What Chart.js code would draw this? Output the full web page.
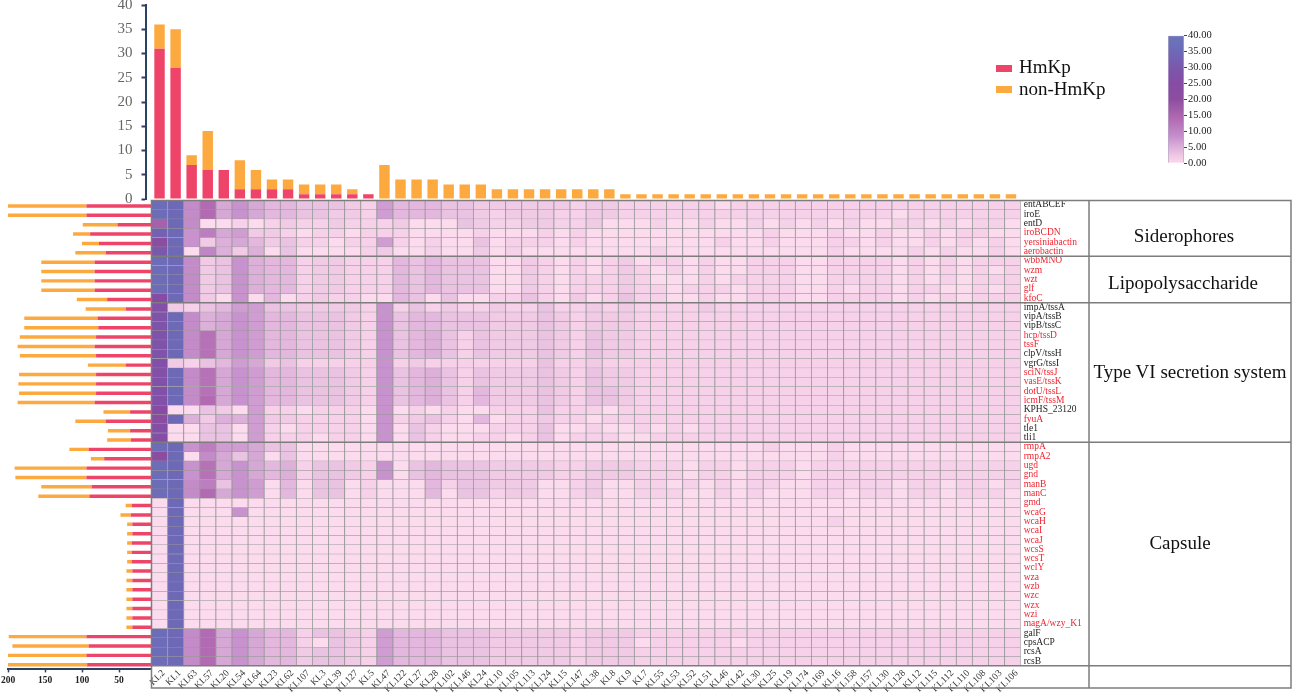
<!DOCTYPE html>
<html>
<head>
<meta charset="utf-8">
<title>KL types and virulence genes</title>
<style>
    html, body { margin: 0; padding: 0; background: #fff; overflow: hidden; }
    #page { position: relative; width: 1299px; height: 694px; font-family: 'Liberation Serif', serif; color: #111; }
    #page canvas { position: absolute; left: 0; top: 0; }
    #leftClip { position: absolute; left: 0; top: 0; width: 151px; height: 694px; overflow: hidden; }
    .section { position: absolute; font-size: 19px; line-height: 22px; transform: translateX(-50%); white-space: nowrap; }
    .legendBox { position: absolute; left: 996px; width: 16px; height: 7px; }
    .legendText { position: absolute; left: 1019px; font-size: 19px; line-height: 22px; }
</style>
</head>
<body>
<div id="page">
    <canvas id="topChart" width="1299" height="212"></canvas>
    <div id="leftClip"><canvas id="leftChart" width="160" height="694"></canvas></div>
    <canvas id="heatChart" width="1299" height="694"></canvas>
    <canvas id="scaleChart" width="70" height="145" style="left:1160px;top:28px"></canvas>
    <div class="legendBox" style="top:65px;background:#ef4469"></div>
    <div class="legendText" style="top:56px">HmKp</div>
    <div class="legendBox" style="top:86px;background:#fca93f"></div>
    <div class="legendText" style="top:78px">non-HmKp</div>
    <div class="section" style="left:1184px;top:225px">Siderophores</div>
    <div class="section" style="left:1183px;top:272px">Lipopolysaccharide</div>
    <div class="section" style="left:1190px;top:361px">Type VI secretion system</div>
    <div class="section" style="left:1180px;top:532px">Capsule</div>
</div>
<script src="https://cdn.jsdelivr.net/npm/chart.js@4/dist/chart.umd.js"></script>
<script>
const klTypes = ['KL2','KL1','KL63','KL57','KL20','KL54','KL64','KL23','KL62','KL107','KL3','KL39','KL127','KL5','KL47','KL122','KL27','KL28','KL102','KL146','KL24','KL10','KL105','KL113','KL124','KL15','KL147','KL38','KL8','KL9','KL7','KL55','KL53','KL52','KL51','KL46','KL42','KL30','KL25','KL19','KL174','KL169','KL16','KL158','KL157','KL130','KL128','KL12','KL115','KL112','KL110','KL108','KL103','KL106']
const klHmKp = [31,27,7,6,6,2,2,2,2,1,1,1,1,1,0,0,0,0,0,0,0,0,0,0,0,0,0,0,0,0,0,0,0,0,0,0,0,0,0,0,0,0,0,0,0,0,0,0,0,0,0,0,0,0]
const klNonHmKp = [5,8,2,8,0,6,4,2,2,2,2,2,1,0,7,4,4,4,3,3,3,2,2,2,2,2,2,2,2,1,1,1,1,1,1,1,1,1,1,1,1,1,1,1,1,1,1,1,1,1,1,1,1,1]

const genes = ['entABCEF','iroE','entD','iroBCDN','yersiniabactin','aerobactin','wbbMNO','wzm','wzt','glf','kfoC','impA/tssA','vipA/tssB','vipB/tssC','hcp/tssD','tssF','clpV/tssH','vgrG/tssI','sciN/tssJ','vasE/tssK','dotU/tssL','icmF/tssM','KPHS_23120','fyuA','tle1','tli1','rmpA','rmpA2','ugd','gnd','manB','manC','gmd','wcaG','wcaH','wcaI','wcaJ','wcsS','wcsT','wclY','wza','wzb','wzc','wzx','wzi','magA/wzy_K1','galF','cpsACP','rcsA','rcsB']
const blackGenes = ['entABCEF','iroE','entD','impA/tssA','vipA/tssB','vipB/tssC','clpV/tssH','vgrG/tssI','KPHS_23120','tle1','tli1','galF','cpsACP','rcsA','rcsB']
const geneHmKp = [94,94,52,89,77,68,83,83,83,83,66,41,79,78,81,83,81,41,81,81,81,83,35,68,35,34,91,70,94,94,87,90,33,34,32,32,33,33,33,32,32,32,32,32,32,32,94,91,94,93]
const geneNonHmKp = [109,109,47,23,23,41,72,72,72,72,41,54,99,100,103,104,103,51,104,105,104,104,36,41,30,32,26,18,97,96,68,69,8,14,7,7,6,6,6,8,8,8,8,8,8,8,105,103,108,109]

// one row per gene, one value per KL type
const cellValues = [
    [36,35,9,14,6,8,6,4,4,3,3,3,2,1,7,4,4,4,3,3,2,2,2,2,2,2,1,2,2,1,1,1,1,1,1,0,1,1,1,1,1,1,1,1,1,1,1,1,1,1,1,1,1,1],
    [36,35,9,14,6,8,6,4,4,3,3,2,2,1,7,4,4,4,3,3,2,1,2,2,2,1,1,2,2,1,1,1,1,1,1,1,1,1,1,1,1,1,1,1,1,1,0,1,1,1,1,1,1,1],
    [16,35,9,0,0,1,0,1,2,1,1,2,1,1,1,2,0,0,0,3,2,1,1,2,2,1,1,2,0,0,0,1,0,0,1,0,0,1,0,1,0,1,0,1,0,0,1,1,0,1,0,1,1,0],
    [33,35,8,11,6,7,2,2,1,0,1,1,0,1,1,1,0,0,0,0,1,0,0,0,1,0,1,0,0,0,0,0,0,0,0,0,0,0,1,0,0,0,1,0,0,1,0,0,1,0,1,1,0,0],
    [22,35,8,2,5,6,4,2,3,1,1,0,1,1,7,1,0,1,0,0,3,0,1,1,1,0,1,0,0,0,0,0,0,0,0,1,0,0,1,0,0,0,1,1,0,1,0,0,1,0,1,0,1,0],
    [30,35,0,10,5,2,5,0,3,0,0,0,0,1,2,0,0,1,0,0,2,0,1,0,0,0,0,0,0,0,0,1,0,0,0,0,0,0,0,0,0,0,1,0,0,0,0,1,0,1,0,0,1,0],
    [36,35,9,2,3,8,5,4,4,1,2,2,1,1,1,4,3,4,3,3,3,0,0,2,1,0,1,0,1,2,0,1,1,0,1,0,0,1,1,1,0,0,1,1,1,1,0,1,0,1,0,1,1,1],
    [36,35,9,2,3,8,5,4,4,1,2,2,1,1,1,4,3,4,3,3,3,0,0,2,1,0,1,0,1,2,1,0,1,0,1,0,0,1,1,1,0,0,1,1,1,1,0,1,0,1,0,1,0,1],
    [36,35,9,2,3,8,5,4,4,1,2,2,1,1,1,4,3,4,3,3,3,0,0,2,1,0,1,1,1,2,1,0,0,0,1,0,1,1,1,1,0,0,1,1,1,1,0,1,0,1,0,1,1,1],
    [36,35,9,2,3,8,5,4,4,1,2,2,1,1,1,4,3,4,3,3,3,0,0,2,1,0,1,1,1,2,1,1,0,1,1,1,0,1,1,1,0,0,1,0,1,1,0,1,1,0,0,1,0,1],
    [25,35,9,2,0,8,0,4,0,1,2,1,1,0,0,4,3,0,3,0,0,1,1,3,1,0,2,0,1,3,1,1,0,0,1,0,0,1,1,1,0,0,1,1,1,1,0,1,0,1,0,1,1,1],
    [27,2,1,3,4,7,7,3,3,2,2,2,2,1,8,1,3,1,2,1,1,2,1,1,3,1,1,2,1,2,1,1,1,1,2,1,1,1,1,1,1,1,1,1,1,1,1,1,1,1,1,1,1,1],
    [28,35,9,5,6,8,7,4,4,3,3,3,2,1,8,3,4,4,3,3,3,2,2,2,3,2,1,2,2,2,1,1,1,1,1,1,1,1,1,1,1,1,1,1,1,1,1,1,1,1,1,1,1,1],
    [28,35,9,5,6,8,7,4,4,3,3,3,2,1,8,3,4,4,3,3,3,2,2,2,3,2,1,2,2,2,1,1,1,1,1,1,1,1,1,1,1,1,1,1,1,1,1,1,1,1,1,1,1,1],
    [28,35,9,13,6,8,7,4,4,3,3,3,2,1,8,3,4,5,3,1,3,2,2,2,3,2,1,3,2,2,1,1,1,1,1,1,1,1,1,1,1,1,1,1,1,1,1,1,1,1,1,1,1,1],
    [28,35,9,13,6,8,7,4,4,3,3,3,2,1,8,3,4,5,3,1,3,2,2,2,3,2,1,3,2,2,1,1,1,1,1,1,1,1,1,1,1,1,1,1,1,1,1,1,1,1,1,1,1,1],
    [28,35,9,13,6,8,7,4,4,3,3,3,2,1,8,3,4,5,3,1,3,2,2,2,3,2,1,3,2,2,1,1,1,1,1,1,1,1,1,1,1,1,1,1,1,1,1,1,1,1,1,1,1,1],
    [27,2,1,3,4,7,6,2,3,1,1,1,1,1,8,1,2,1,1,1,1,1,1,1,3,1,1,2,1,1,1,1,1,1,1,1,1,1,1,1,1,1,1,1,1,1,1,1,1,1,1,1,1,1],
    [27,35,9,13,6,8,7,4,4,3,3,3,2,1,8,3,4,5,3,1,3,2,2,2,3,2,1,3,2,2,1,1,1,1,1,1,1,1,1,1,1,1,1,1,1,1,1,1,1,1,1,1,1,1],
    [27,35,9,13,6,8,7,4,4,3,3,3,2,1,8,3,4,5,3,1,3,2,2,2,3,2,1,3,2,2,1,1,1,1,1,1,1,1,1,1,1,1,1,1,1,1,1,1,1,1,1,1,1,1],
    [27,35,9,13,6,8,7,4,4,3,3,3,2,1,8,3,4,5,3,1,4,2,2,2,3,2,1,3,3,2,1,1,1,1,1,1,1,1,1,1,1,1,1,1,1,1,1,1,1,1,1,1,1,1],
    [27,35,9,14,6,8,7,4,4,3,3,3,2,1,8,3,4,5,3,1,4,2,2,2,3,2,1,3,3,2,1,1,1,1,1,1,1,1,1,1,1,1,1,1,1,1,1,1,1,1,1,1,1,1],
    [25,0,0,3,2,0,7,1,1,0,1,1,1,0,8,0,1,0,1,0,0,1,1,1,3,1,1,1,0,1,1,1,1,1,1,1,1,1,1,1,1,1,1,1,1,1,1,1,1,1,1,1,1,1],
    [22,35,5,2,5,5,7,2,2,1,1,1,1,0,8,1,2,3,1,0,4,0,1,1,2,1,1,0,1,1,1,1,1,1,1,1,1,1,1,1,1,1,1,1,1,1,1,1,1,1,1,1,1,1],
    [26,0,0,3,3,0,7,1,0,1,1,1,1,0,8,0,3,1,0,0,0,1,1,1,3,0,0,1,0,0,1,0,1,0,1,1,1,1,1,1,1,1,1,1,1,1,1,1,1,1,1,1,1,1],
    [26,0,0,3,3,0,7,1,1,1,0,1,1,0,8,0,3,1,0,0,1,1,0,1,3,0,1,1,1,0,0,1,1,1,1,1,1,1,1,1,1,1,1,1,1,1,1,1,1,1,1,1,1,1],
    [36,35,8,11,7,7,6,3,3,0,0,0,0,0,0,0,0,0,0,0,0,0,0,0,0,0,0,0,0,0,0,0,0,0,0,0,0,0,1,0,0,0,1,0,0,0,0,0,0,0,0,0,0,0],
    [22,35,0,9,6,3,6,0,3,0,0,0,0,0,0,0,0,0,0,0,0,0,0,0,0,0,0,0,0,0,0,0,0,0,0,0,0,0,0,0,0,0,1,0,0,0,0,0,0,0,0,0,0,0],
    [36,35,8,13,6,8,6,4,5,1,3,3,2,1,8,0,3,4,3,3,3,2,2,2,2,1,1,2,2,2,1,1,1,0,1,1,0,1,1,1,0,1,1,1,1,1,1,1,1,1,1,1,1,1],
    [36,35,8,13,6,8,6,4,5,1,3,3,2,1,8,0,3,4,3,3,3,2,2,2,2,1,1,2,2,2,1,1,1,0,1,1,0,1,1,1,0,1,1,1,1,1,1,1,1,1,1,1,1,1],
    [36,35,9,11,3,8,7,0,4,0,3,3,0,1,0,0,0,4,1,3,3,2,2,2,0,0,1,2,0,0,1,1,0,1,0,1,0,1,1,0,0,1,1,1,1,1,0,1,1,0,1,1,0,1],
    [36,35,9,14,6,8,7,0,4,0,3,3,0,1,0,0,0,4,0,3,3,1,2,2,0,0,1,2,0,0,1,1,1,0,0,1,0,1,0,0,0,1,1,0,1,1,0,1,1,0,1,1,1,0],
    [0,35,0,0,0,0,0,0,0,0,0,0,0,0,0,0,0,0,0,0,0,0,0,0,0,0,0,0,0,0,0,0,0,0,0,0,0,0,0,0,0,0,0,0,0,0,0,0,0,0,0,0,0,0],
    [0,35,0,0,0,8,0,0,0,0,0,0,0,0,0,0,0,0,0,0,0,0,0,0,0,0,0,0,0,0,0,0,0,0,0,0,0,0,0,0,0,0,0,0,0,0,0,0,0,0,0,0,0,0],
    [0,35,0,0,0,0,0,0,0,0,0,0,0,0,0,0,0,0,0,0,0,0,0,0,0,0,0,0,0,0,0,0,0,0,0,0,0,0,0,0,0,0,1,0,0,0,0,0,0,0,0,0,0,0],
    [0,35,0,0,0,0,0,0,0,0,0,0,0,0,0,0,0,0,0,0,0,0,0,0,0,0,0,0,0,0,0,0,0,0,0,0,0,0,0,0,0,0,0,0,0,0,0,0,0,0,0,0,0,0],
    [0,35,0,0,0,0,0,0,0,0,0,0,0,0,0,0,0,0,0,0,0,0,0,0,0,0,0,0,0,0,0,0,0,0,0,0,0,0,0,0,0,0,0,0,0,0,0,0,0,0,0,0,0,0],
    [0,35,0,0,0,0,0,0,0,0,0,0,0,0,0,0,0,0,0,0,0,0,0,0,0,0,0,0,0,0,0,0,0,0,0,0,0,0,0,0,0,0,0,0,0,0,0,0,0,0,0,0,0,0],
    [0,35,0,0,0,0,0,0,0,0,0,0,0,0,0,0,0,0,0,0,0,0,0,0,0,0,0,0,0,0,0,0,0,0,0,0,0,0,0,0,0,0,0,0,0,0,0,0,0,0,0,0,0,0],
    [0,35,0,0,0,0,0,0,0,0,0,0,0,0,0,0,0,0,0,0,0,0,0,0,0,0,0,0,0,0,0,0,0,0,0,0,0,0,0,0,0,0,0,0,0,0,0,0,0,0,0,0,0,0],
    [0,35,0,0,0,0,0,0,0,0,0,0,0,0,0,0,0,0,0,0,0,0,0,0,0,0,0,0,0,0,0,0,0,0,0,0,0,0,0,0,0,0,0,0,0,0,0,0,0,0,0,0,0,0],
    [0,35,0,0,0,0,0,0,0,0,0,0,0,0,0,0,0,0,0,0,0,0,0,0,0,0,0,0,0,0,0,0,0,0,0,0,0,0,0,0,0,0,0,0,0,0,0,0,0,0,0,0,0,0],
    [0,35,0,0,0,0,0,0,0,0,0,0,0,0,0,0,0,0,0,0,0,0,0,0,0,0,0,0,0,0,0,0,0,0,0,0,0,0,0,0,0,0,0,0,0,0,0,0,0,0,0,0,0,0],
    [0,35,0,0,0,0,0,0,0,0,0,0,0,0,0,0,0,0,0,0,0,0,0,0,0,0,0,0,0,0,0,0,0,0,0,0,0,0,0,0,0,0,0,0,0,0,0,0,0,0,0,0,0,0],
    [0,35,0,0,0,0,0,0,0,0,0,0,0,0,0,0,0,0,0,0,0,0,0,0,0,0,0,0,0,0,0,0,0,0,0,0,0,0,0,0,0,0,0,0,0,0,0,0,0,0,0,0,0,0],
    [0,35,0,0,0,0,0,0,0,0,0,0,0,0,0,0,0,0,0,0,0,0,0,0,0,0,0,0,0,0,0,0,0,0,0,0,0,0,0,0,0,0,0,0,0,0,0,0,0,0,0,0,0,0],
    [36,35,9,14,6,8,6,4,4,1,3,3,2,1,7,4,4,4,3,3,3,2,2,2,2,2,1,2,2,2,1,1,1,1,1,1,1,1,1,1,1,1,1,1,1,1,1,1,1,1,1,1,1,1],
    [36,35,9,14,6,8,6,4,4,1,0,3,2,1,7,4,4,4,3,3,3,2,2,2,2,2,1,2,2,2,0,1,1,1,1,1,0,1,1,1,1,1,1,1,1,1,1,1,1,1,1,1,1,1],
    [36,35,9,14,6,8,6,4,4,2,3,3,2,1,7,4,4,4,3,3,3,2,2,2,2,2,1,2,2,2,1,1,1,1,1,1,1,1,1,1,1,1,1,1,1,1,1,1,1,1,1,1,1,1],
    [36,35,9,14,6,8,6,4,4,2,3,3,2,1,7,4,4,4,3,3,3,2,2,2,2,2,1,2,2,2,1,1,1,1,1,1,1,1,1,1,1,1,1,1,1,1,1,1,1,1,1,1,1,1]
]

const sectionEnds = [6, 11, 26]
const heatStops = [
    [0, [252, 219, 238]], [1, [247, 209, 233]], [2, [241, 203, 230]], [3, [235, 195, 226]],
    [4, [228, 184, 222]], [6, [214, 168, 214]], [8, [199, 146, 205]], [14, [178, 106, 178]],
    [20, [142, 78, 160]], [25, [135, 75, 165]], [30, [122, 88, 172]], [36, [108, 108, 184]], [40, [107, 118, 185]]
]

const red = '#ef4469'
const orange = '#fca93f'
const navy = '#2b4263'

Chart.defaults.font.family = "'Liberation Serif', serif"
Chart.defaults.animation = false
Chart.defaults.responsive = false
Chart.defaults.plugins.legend.display = false
Chart.defaults.plugins.tooltip.enabled = false

function heatColor(v) {
    let i = 0
    while (i < heatStops.length - 2 && v > heatStops[i + 1][0]) i += 1
    let a = heatStops[i]
    let b = heatStops[i + 1]
    let t = (v - a[0]) / (b[0] - a[0])
    let c = a[1].map((p, k) => Math.round(p + (b[1][k] - p) * t))
    return `rgb(${c[0]},${c[1]},${c[2]})`
}

// exact box sizes so the three panels line up
function fixBox(size) {
    return function (scale) {
        if (scale.isHorizontal()) scale.height = size
        else scale.width = size
        scale.paddingLeft = 0
        scale.paddingRight = 0
        scale.paddingTop = 0
        scale.paddingBottom = 0
    }
}

// top panel: the y axis stands a little left of the first bar
const shiftAxis = {
    id: 'shiftAxis',
    afterLayout(chart) {
        chart.scales.y.left -= 6
        chart.scales.y.right -= 6
    }
}

new Chart(document.getElementById('topChart'), {
    type: 'bar',
    plugins: [shiftAxis],
    data: {
        labels: klTypes,
        datasets: [
            { label: 'HmKp', data: klHmKp, backgroundColor: red },
            { label: 'non-HmKp', data: klNonHmKp, backgroundColor: orange }
        ]
    },
    options: {
        layout: { padding: { top: 5, right: 280, bottom: 13, left: 0 } },
        datasets: { bar: { barPercentage: 0.65, categoryPercentage: 1 } },
        scales: {
            x: { stacked: true, display: false },
            y: {
                stacked: true,
                min: 0,
                max: 40,
                afterFit: fixBox(151.5),
                grid: { drawOnChartArea: false, color: navy, tickLength: 4, tickWidth: 2 },
                border: { color: navy, width: 2 },
                ticks: { stepSize: 5, color: '#666', padding: 9, font: { size: 15 } }
            }
        }
    }
})

new Chart(document.getElementById('leftChart'), {
    type: 'bar',
    data: {
        labels: genes,
        datasets: [
            { label: 'HmKp', data: geneHmKp, backgroundColor: red },
            { label: 'non-HmKp', data: geneNonHmKp, backgroundColor: orange }
        ]
    },
    options: {
        indexAxis: 'y',
        layout: { padding: { top: 201.3, right: 4, bottom: 0, left: 8 } },
        datasets: { bar: { barPercentage: 0.37, categoryPercentage: 1 } },
        scales: {
            y: { stacked: true, display: false },
            x: {
                stacked: true,
                reverse: true,
                min: 0,
                max: 200,
                afterFit: fixBox(24.6),
                grid: { drawOnChartArea: false, color: navy, tickLength: 3, tickWidth: 1.5 },
                border: { color: navy, width: 2 },
                ticks: {
                    stepSize: 50,
                    color: '#222',
                    padding: 2,
                    maxRotation: 0,
                    font: { size: 9.5, weight: 'bold' },
                    callback: (v) => (v === 0 ? '' : v)
                }
            }
        }
    }
})

// table frame and the lines between gene groups
const tableFrame = {
    id: 'tableFrame',
    afterDraw(chart) {
        const { ctx, chartArea, scales } = chart
        ctx.save()
        ctx.strokeStyle = '#7d7d7d'
        ctx.lineWidth = 1.5
        ctx.strokeRect(chartArea.left, 200.5, 1291 - chartArea.left, 487.5)
        ctx.beginPath()
        ctx.moveTo(1089, 200)
        ctx.lineTo(1089, 688)
        for (let end of [...sectionEnds, genes.length]) {
            let y = scales.y.getPixelForValue(end)
            ctx.moveTo(chartArea.left, y)
            ctx.lineTo(1291, y)
        }
        ctx.stroke()
        ctx.restore()
    }
}

new Chart(document.getElementById('heatChart'), {
    type: 'bar',
    plugins: [tableFrame],
    data: {
        labels: klTypes,
        // every row is one stacked band of height 1, its value only sets the colour
        datasets: genes.map((gene, row) => ({
            label: gene,
            data: klTypes.map(() => 1),
            backgroundColor: cellValues[row].map(heatColor),
            borderColor: '#989898',
            borderWidth: { top: 0.5, bottom: 0.5, left: 0.8, right: 0.8 },
            borderSkipped: false
        }))
    },
    options: {
        layout: { padding: { top: 200.3, right: 0, bottom: 0, left: 151.5 } },
        datasets: { bar: { barPercentage: 1, categoryPercentage: 1 } },
        scales: {
            x: {
                stacked: true,
                afterFit: fixBox(28.3),
                grid: { display: false, drawTicks: false },
                border: { display: false },
                ticks: {
                    autoSkip: false,
                    minRotation: 45,
                    maxRotation: 45,
                    labelOffset: 4,
                    padding: 2,
                    color: '#333',
                    font: { size: 9.5 }
                }
            },
            y: { stacked: true, reverse: true, display: false, min: 0, max: genes.length },
            geneAxis: {
                axis: 'y',
                type: 'category',
                position: 'right',
                labels: genes,
                offset: true,
                afterFit: fixBox(278.3),
                grid: { display: false, drawTicks: false },
                border: { display: false },
                ticks: {
                    autoSkip: false,
                    padding: 3,
                    font: { size: 9.5 },
                    color: (c) => (blackGenes.includes(genes[c.index]) ? '#222' : '#f0222e')
                }
            }
        }
    }
})

// colour scale, a single gradient bar on its own axis
new Chart(document.getElementById('scaleChart'), {
    type: 'bar',
    data: {
        labels: ['count'],
        datasets: [{
            data: [40],
            borderColor: '#b5a8c8',
            borderWidth: 1,
            backgroundColor: (c) => {
                const area = c.chart.chartArea
                if (!area) return heatColor(0)
                const grad = c.chart.ctx.createLinearGradient(0, area.bottom, 0, area.top)
                for (let s of heatStops) {
                    grad.addColorStop(s[0] / 40, heatColor(s[0]))
                }
                return grad
            }
        }]
    },
    options: {
        layout: { padding: { top: 7.7, right: 0, bottom: 9.7, left: 8 } },
        datasets: { bar: { barPercentage: 1, categoryPercentage: 1 } },
        scales: {
            x: { display: false },
            y: {
                position: 'right',
                min: 0,
                max: 40,
                afterFit: fixBox(46),
                grid: { drawOnChartArea: false, color: '#444', tickLength: 3 },
                border: { display: false },
                ticks: {
                    stepSize: 5,
                    padding: 1,
                    color: '#222',
                    font: { size: 10.5 },
                    callback: (v) => v.toFixed(2)
                }
            }
        }
    }
})
</script>
</body>
</html>
